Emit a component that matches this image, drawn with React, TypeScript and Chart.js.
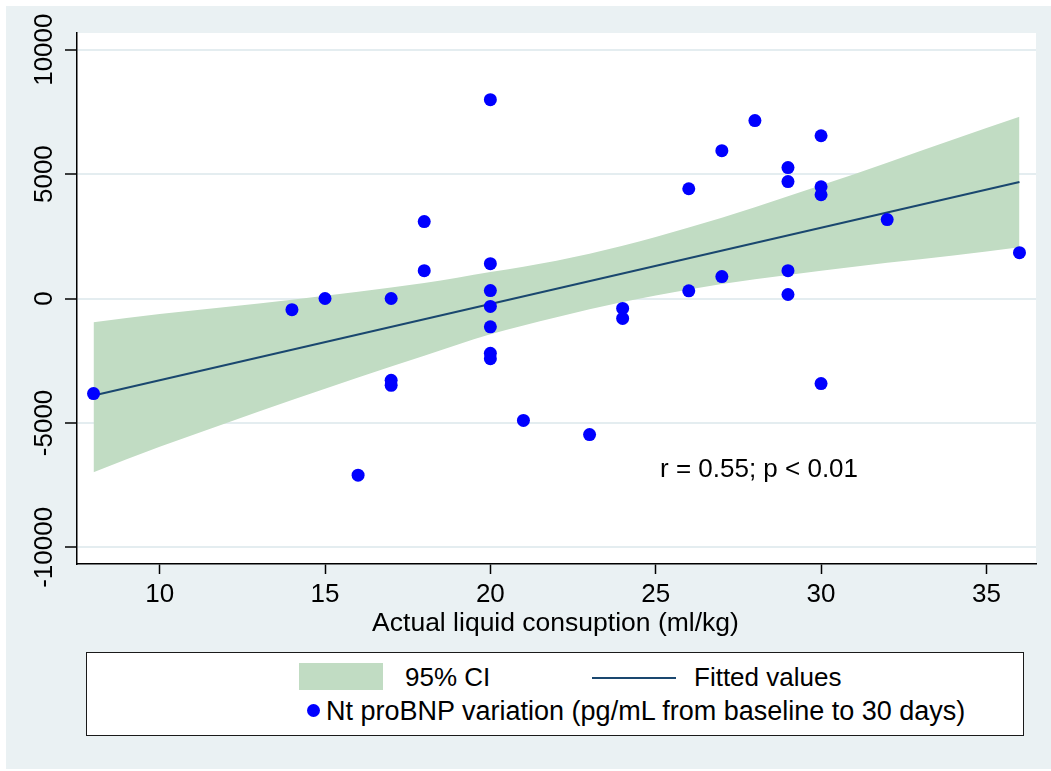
import React, { useEffect, useRef } from 'react';
import { Chart, registerables } from 'chart.js';

Chart.register(...registerables);

const FONT = "'Liberation Sans', Arial, Helvetica, sans-serif";

// Axis ticks
const X_TICKS = [10, 15, 20, 25, 30, 35];
const Y_TICKS = [-10000, -5000, 0, 5000, 10000];

// Observations: actual liquid consumption (ml/kg) vs Nt proBNP variation
const X_VALS = [8, 14, 15, 16, 17, 17, 17, 18, 18, 20, 20, 20, 20, 20, 20, 20, 21, 23, 24, 24, 26, 26, 27, 27, 28, 29, 29, 29, 29, 30, 30, 30, 30, 32, 36];
const Y_VALS = [-3820, -450, 0, -7100, 0, -3290, -3490, 3090, 1120, 7990, 1400, 320, -320, -1140, -2200, -2420, -4900, -5470, -400, -800, 4410, 310, 5940, 880, 7150, 5260, 4700, 1120, 160, 6540, 4490, 4170, -3420, 3170, 1840];

// Fitted values
const FIT_X = [8, 36];
const FIT_Y = [-3900, 4680];

// 95% CI band
const BAND_X = [8, 10, 12, 14, 16, 18, 20, 22, 24, 26, 28, 30, 32, 34, 36];
const CI_UPPER = [-950, -620, -340, -50, 270, 620, 1060, 1520, 2120, 2850, 3670, 4550, 5460, 6390, 7300];
const CI_LOWER = [-6980, -5960, -5010, -4080, -3170, -2300, -1440, -750, -140, 360, 770, 1120, 1440, 1730, 2060];

const LEGEND_LABELS = ['95% CI', 'Fitted values', 'Nt proBNP variation (pg/mL from baseline to 30 days)'];
const X_TITLE = 'Actual liquid consuption (ml/kg)';
const NOTE = 'r = 0.55; p < 0.01';

const BAND_COLOR = '#C1DCC3';
const LINE_COLOR = '#1A476F';
const POINT_COLOR = '#0000FF';
const BG = '#EAF1F3';

export default function App() {
  const ref = useRef<HTMLCanvasElement>(null);

  useEffect(() => {
    const canvas = ref.current;
    if (!canvas) return;

    const plotPlugin = {
      id: 'plotDecor',
      beforeDraw(chart: any) {
        const { ctx, chartArea } = chart;
        ctx.save();
        ctx.fillStyle = '#ffffff';
        ctx.fillRect(chartArea.left, chartArea.top, chartArea.right - chartArea.left, chartArea.bottom - chartArea.top);
        ctx.restore();
      },
      afterDraw(chart: any) {
        const { ctx, chartArea } = chart;
        const yScale = chart.scales.y;
        ctx.save();
        ctx.fillStyle = '#000';
        ctx.font = `26px ${FONT}`;
        ctx.textAlign = 'center';
        ctx.textBaseline = 'middle';
        for (const v of Y_TICKS) {
          const py = yScale.getPixelForValue(v);
          ctx.save();
          ctx.translate(chartArea.left - 32, py);
          ctx.rotate(-Math.PI / 2);
          ctx.fillText(String(v), 0, 0);
          ctx.restore();
        }
        ctx.restore();
      },
    };

    const chart = new Chart(canvas, {
      type: 'scatter',
      data: {
        datasets: [
          {
            label: LEGEND_LABELS[2],
            data: X_VALS.map((x, i) => ({ x, y: Y_VALS[i] })),
            backgroundColor: POINT_COLOR,
            borderWidth: 0,
            pointRadius: 6.5,
            order: 0,
          },
          {
            label: LEGEND_LABELS[1],
            type: 'line',
            data: FIT_X.map((x, i) => ({ x, y: FIT_Y[i] })),
            borderColor: LINE_COLOR,
            borderWidth: 2,
            pointRadius: 0,
            fill: false,
            order: 1,
          },
          {
            label: LEGEND_LABELS[0],
            type: 'line',
            data: BAND_X.map((x, i) => ({ x, y: CI_UPPER[i] })),
            borderWidth: 0,
            borderColor: 'rgba(0,0,0,0)',
            backgroundColor: BAND_COLOR,
            pointRadius: 0,
            cubicInterpolationMode: 'monotone',
            fill: '+1',
            order: 2,
          },
          {
            label: 'lower',
            type: 'line',
            data: BAND_X.map((x, i) => ({ x, y: CI_LOWER[i] })),
            borderWidth: 0,
            borderColor: 'rgba(0,0,0,0)',
            pointRadius: 0,
            cubicInterpolationMode: 'monotone',
            fill: false,
            order: 3,
          },
        ],
      } as any,
      options: {
        animation: false,
        responsive: false,
        devicePixelRatio: 1,
        events: [],
        layout: { padding: { left: 0, top: 33, right: 15, bottom: 0 } },
        plugins: {
          legend: { display: false },
          tooltip: { enabled: false },
        },
        scales: {
          x: {
            type: 'linear',
            min: 7.5,
            max: 36.5,
            afterBuildTicks: (scale: any) => {
              scale.ticks = X_TICKS.map((v) => ({ value: v }));
            },
            afterFit: (scale: any) => {
              scale.height = 207;
            },
            grid: {
              drawOnChartArea: false,
              drawTicks: true,
              tickLength: 10,
              tickColor: '#000',
              tickWidth: 1.5,
            },
            border: { display: true, color: '#000', width: 1.5 },
            ticks: {
              color: '#000',
              font: { family: FONT, size: 26 },
              padding: 5,
              autoSkip: false,
              maxRotation: 0,
              minRotation: 0,
              callback: (v: any) => String(v),
            },
          },
          y: {
            type: 'linear',
            min: -10670,
            max: 10670,
            afterBuildTicks: (scale: any) => {
              scale.ticks = Y_TICKS.map((v) => ({ value: v }));
            },
            afterFit: (scale: any) => {
              scale.width = 77;
            },
            grid: {
              color: '#E4EDF0',
              lineWidth: 2,
              drawTicks: true,
              tickLength: 12,
              tickColor: '#000',
              tickWidth: 1.5,
            },
            border: { display: true, color: '#000', width: 1.5 },
            ticks: { display: false },
          },
        },
      } as any,
      plugins: [plotPlugin],
    });

    return () => chart.destroy();
  }, []);

  const textStyle: React.CSSProperties = {
    position: 'absolute',
    fontFamily: FONT,
    fontSize: 26,
    lineHeight: '30px',
    color: '#000',
    whiteSpace: 'nowrap',
  };

  return (
    <div style={{ position: 'absolute', left: 0, top: 0, width: 1051, height: 771, background: '#fff', overflow: 'hidden' }}>
      <div style={{ position: 'absolute', left: 6, top: 6, width: 1045, height: 763, background: BG }} />
      <canvas ref={ref} width={1051} height={771} style={{ position: 'absolute', left: 0, top: 0, width: 1051, height: 771 }} />
      <div style={{ ...textStyle, fontSize: 26.5, left: 0, width: 1111, top: 607, textAlign: 'center' }}>{X_TITLE}</div>
      <div style={{ ...textStyle, left: 660, top: 453 }}>{NOTE}</div>
      <div style={{ position: 'absolute', left: 86, top: 652, width: 936, height: 82, border: '1.5px solid #1a1a1a', background: '#fff' }}>
        <div style={{ position: 'absolute', left: 212, top: 10, width: 84, height: 27, background: BAND_COLOR }} />
        <div style={{ ...textStyle, left: 318, top: 9 }}>{LEGEND_LABELS[0]}</div>
        <div style={{ position: 'absolute', left: 505, top: 24, width: 84, height: 2, background: LINE_COLOR }} />
        <div style={{ ...textStyle, left: 607, top: 9 }}>{LEGEND_LABELS[1]}</div>
        <div style={{ position: 'absolute', left: 220, top: 51, width: 13, height: 13, borderRadius: '50%', background: POINT_COLOR }} />
        <div style={{ ...textStyle, fontSize: 27, left: 239, top: 43 }}>{LEGEND_LABELS[2]}</div>
      </div>
    </div>
  );
}
